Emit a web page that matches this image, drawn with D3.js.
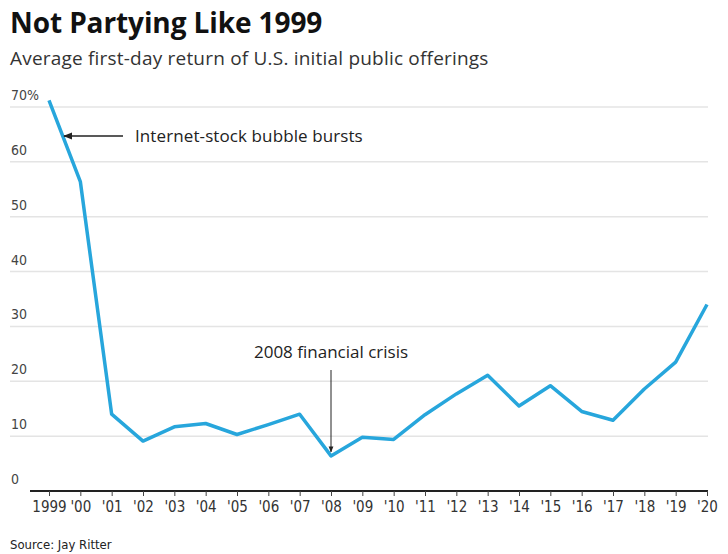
<!DOCTYPE html>
<html lang="en">
<head>
    <meta charset="UTF-8">
    <title>Not Partying Like 1999</title>
    <script src="https://d3js.org/d3.v7.min.js"></script>
    <style>
        body { margin: 0; background: #fff; }
        svg text { font-family: "Open Sans", "Noto Sans", sans-serif; }
        .narrow { font-family: "Liberation Sans Narrow", "DejaVu Sans Condensed", sans-serif !important; }
    </style>
</head>
<body>
    <div id="chart"></div>

    <script>
        // data
        const years = [1999, 2000, 2001, 2002, 2003, 2004, 2005, 2006, 2007, 2008, 2009,
                       2010, 2011, 2012, 2013, 2014, 2015, 2016, 2017, 2018, 2019, 2020];
        const returns = [71.2, 56.4, 14.0, 9.1, 11.7, 12.3, 10.3, 12.1, 14.0, 6.4, 9.8,
                         9.4, 13.9, 17.7, 21.1, 15.5, 19.2, 14.5, 12.9, 18.6, 23.5, 34.0];
        const yTicks = [0, 10, 20, 30, 40, 50, 60, 70];
        const xLabels = ["1999", "'00", "'01", "'02", "'03", "'04", "'05", "'06", "'07", "'08", "'09",
                         "'10", "'11", "'12", "'13", "'14", "'15", "'16", "'17", "'18", "'19", "'20"];

        const width = 728;
        const height = 554;

        const svg = d3.select("#chart")
            .append("svg")
            .attr("width", width)
            .attr("height", height);

        const x = d3.scaleLinear()
            .domain([1999, 2020])
            .range([49, 707]);

        const y = d3.scaleLinear()
            .domain([0, 70])
            .range([491, 107]);

        // arrow head
        svg.append("defs").append("marker")
            .attr("id", "arrow")
            .attr("viewBox", "0 0 10 10")
            .attr("refX", 9)
            .attr("refY", 5)
            .attr("markerWidth", 6)
            .attr("markerHeight", 6)
            .attr("orient", "auto")
            .append("path")
            .attr("d", "M0,1 L10,5 L0,9 Z")
            .attr("fill", "#222");

        // title + subtitle
        svg.append("text")
            .attr("x", 10)
            .attr("y", 33)
            .style("font-size", "28px")
            .style("font-weight", "bold")
            .style("letter-spacing", "-0.1px")
            .attr("fill", "#111")
            .text("Not Partying Like 1999");

        svg.append("text")
            .attr("x", 10)
            .attr("y", 65)
            .style("font-size", "19px")
            .style("letter-spacing", "0.2px")
            .attr("fill", "#333")
            .text("Average first-day return of U.S. initial public offerings");

        // gridlines
        svg.append("g")
            .selectAll("line")
            .data(yTicks.filter(d => d > 0))
            .enter()
            .append("line")
            .attr("x1", 10)
            .attr("x2", 708)
            .attr("y1", d => y(d))
            .attr("y2", d => y(d))
            .attr("stroke", "#e4e4e4")
            .attr("stroke-width", 1.5);

        // y labels above gridlines
        svg.append("g")
            .selectAll("text")
            .data(yTicks)
            .enter()
            .append("text")
            .attr("class", "narrow")
            .attr("x", 11)
            .attr("y", d => y(d) - 7)
            .style("font-size", "14px")
            .attr("fill", "#444")
            .text(d => d === 70 ? "70%" : d);

        // x axis
        const xAxis = d3.axisBottom(x)
            .tickValues(years)
            .tickSize(5)
            .tickSizeOuter(0)
            .tickFormat((d, i) => xLabels[i]);

        const gx = svg.append("g")
            .attr("transform", "translate(0," + y(0) + ")")
            .call(xAxis);

        gx.select(".domain")
            .attr("d", "M" + 30 + ",0H" + 708)
            .attr("stroke", "#222")
            .attr("stroke-width", 2);
        gx.selectAll(".tick line").attr("stroke", "#444");
        gx.selectAll(".tick text")
            .attr("class", "narrow")
            .attr("y", 10)
            .style("font-size", "15px")
            .attr("fill", "#333");

        // line
        const line = d3.line()
            .x((d, i) => x(years[i]))
            .y(d => y(d));

        svg.append("path")
            .attr("d", line(returns))
            .attr("fill", "none")
            .attr("stroke", "#27a6dc")
            .attr("stroke-width", 3.5)
            .attr("stroke-linejoin", "round");

        // annotations
        svg.append("line")
            .attr("x1", 123)
            .attr("y1", 136)
            .attr("x2", 64)
            .attr("y2", 136)
            .attr("stroke", "#222")
            .attr("stroke-width", 1.5)
            .attr("marker-end", "url(#arrow)");

        svg.append("text")
            .attr("x", 135)
            .attr("y", 142)
            .style("font-size", "17px")
            .style("letter-spacing", "0.1px")
            .attr("fill", "#222")
            .text("Internet-stock bubble bursts");

        svg.append("text")
            .attr("x", x(2008))
            .attr("y", 358)
            .style("text-anchor", "middle")
            .style("font-size", "17px")
            .attr("fill", "#222")
            .text("2008 financial crisis");

        svg.append("line")
            .attr("x1", x(2008))
            .attr("y1", 370)
            .attr("x2", x(2008))
            .attr("y2", y(returns[9]) - 4)
            .attr("stroke", "#222")
            .attr("stroke-width", 1)
            .attr("marker-end", "url(#arrow)");

        // source
        svg.append("text")
            .attr("class", "narrow")
            .attr("x", 10)
            .attr("y", 549)
            .style("font-size", "13px")
            .attr("fill", "#222")
            .text("Source: Jay Ritter");
    </script>
</body>
</html>
